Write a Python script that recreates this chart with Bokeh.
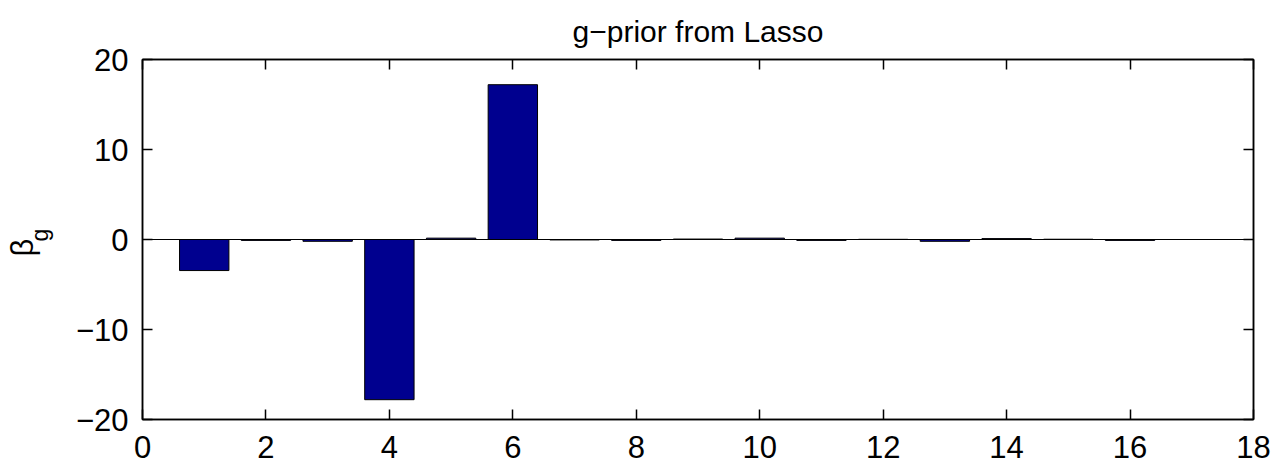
from bokeh.plotting import figure
from bokeh.models import Range1d, LinearAxis, Span, Title, FixedTicker
from bokeh.embed import file_html
from bokeh.resources import INLINE

# data
index = list(range(1, 17))
beta = [-3.45, -0.1, -0.2, -17.8, 0.15, 17.2, -0.05, -0.1, 0.05, 0.15, -0.1, 0.02, -0.2, 0.1, 0.03, -0.1]
x_ticks = [0, 2, 4, 6, 8, 10, 12, 14, 16, 18]
y_ticks = [-20, -10, 0, 10, 20]
y_tick_labels = {-20: "\u221220", -10: "\u221210", 0: "0", 10: "10", 20: "20"}
title_text = "g\u2212prior from Lasso"
ylabel_main = "\u03b2"
ylabel_sub = "g"

FONT = "Liberation Sans"
FS = "31px"

p = figure(width=1274, height=469, output_backend="svg", toolbar_location=None,
           x_range=Range1d(0, 18), y_range=Range1d(-20, 20),
           min_border_left=142, min_border_right=21, min_border_top=59, min_border_bottom=50,
           title=title_text)
p.background_fill_color = "white"
p.border_fill_color = "white"
p.grid.visible = False
p.outline_line_color = "black"
p.outline_line_width = 1.5

p.title.text_font = FONT
p.title.text_font_size = "30px"
p.title.text_font_style = "normal"
p.title.text_color = "black"
p.title.align = "center"
p.title.vertical_align = "top"
p.title.standoff = 20

p.vbar(x=index, top=beta, bottom=0, width=0.8, fill_color="#00008F", line_color="black", line_width=1)
p.add_layout(Span(location=0, dimension="width", line_color="black", line_width=1))

def style(ax, fs):
    ax.axis_line_color = "black"
    ax.axis_line_width = 1.5
    ax.major_tick_in = 10
    ax.major_tick_out = 0
    ax.minor_tick_in = 0
    ax.minor_tick_out = 0
    ax.major_tick_line_width = 1.5
    ax.major_label_text_font = FONT
    ax.major_label_text_font_size = fs
    ax.major_label_text_color = "black"

p.xaxis.ticker = FixedTicker(ticks=x_ticks)
p.yaxis.ticker = FixedTicker(ticks=y_ticks)
p.yaxis.major_label_overrides = y_tick_labels
style(p.xaxis[0], FS); style(p.yaxis[0], FS)
p.xaxis.major_label_standoff = 16
p.yaxis.major_label_standoff = 14

top = LinearAxis(ticker=FixedTicker(ticks=x_ticks)); style(top, "1px")
right = LinearAxis(ticker=FixedTicker(ticks=y_ticks)); style(right, "1px")
top.major_label_overrides = {t: "" for t in x_ticks}
right.major_label_overrides = {t: "" for t in y_ticks}
top.major_label_standoff = 0
right.major_label_standoff = 0
p.add_layout(top, "above")
p.add_layout(right, "right")

# y label beta_g as two vertical titles on the left
t_sub = Title(text=ylabel_sub, align="left", offset=178, text_font=FONT, text_font_size="23px",
              text_font_style="normal", text_color="black", standoff=40)
t_main = Title(text=ylabel_main, align="left", offset=163, text_font=FONT, text_font_size=FS,
               text_font_style="normal", text_color="black", standoff=-70)
p.add_layout(t_sub, "left")
p.add_layout(t_main, "left")

open("out.html", "w").write(file_html(p, INLINE))
